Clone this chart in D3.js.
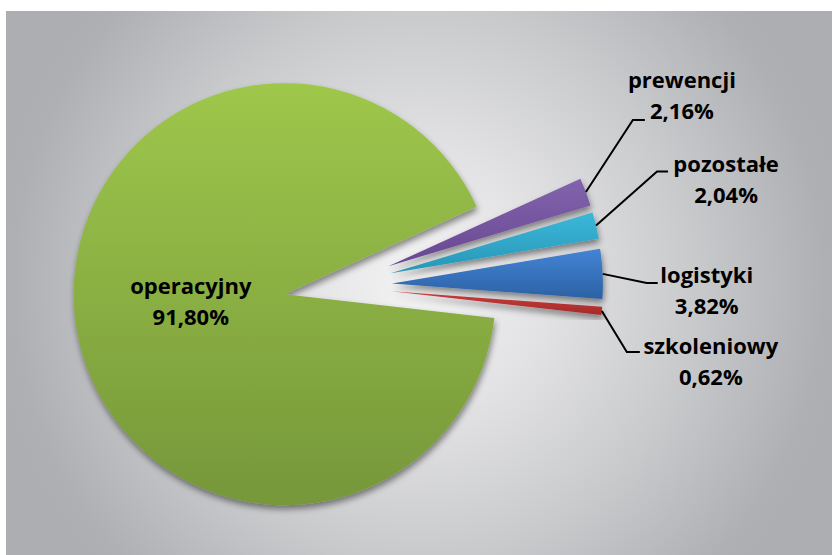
<!DOCTYPE html>
<html>
<head>
<meta charset="utf-8">
<script src="https://cdn.jsdelivr.net/npm/d3@7"></script>
<style>
  body { margin: 0; background: #ffffff; }
  svg { display: block; }
</style>
</head>
<body>
<svg id="chart" width="832" height="555"></svg>
<script>
// Budget shares by area (percent)
const categories  = ["prewencji", "pozostałe", "logistyki", "szkoleniowy", "operacyjny"];
const shares      = [2.16, 2.04, 3.82, 0.62, 91.80];
const valueLabels = ["2,16%", "2,04%", "3,82%", "0,62%", "91,80%"];

// Slice fills: light top, darker bottom
const fillTop    = ["#8263ad", "#3ab8da", "#4384d5", "#c83d3c", "#9ec74b"];
const fillBottom = ["#684891", "#2896b6", "#2c61a4", "#a52a2a", "#76973a"];

const W = 832, H = 555;
const svg = d3.select("#chart");
const defs = svg.append("defs");

// Panel background with a soft radial light
const bg = defs.append("radialGradient")
  .attr("id", "bgGrad")
  .attr("gradientUnits", "userSpaceOnUse")
  .attr("cx", 419).attr("cy", 283).attr("r", 440);
[[0, "#f3f3f4"], [0.3, "#e2e2e4"], [0.62, "#c9cacc"], [0.92, "#afb0b4"], [1, "#adaeb2"]]
  .forEach(([o, c]) => bg.append("stop").attr("offset", o).attr("stop-color", c));

svg.append("rect")
  .attr("x", 6).attr("y", 11)
  .attr("width", W - 6).attr("height", H - 11)
  .attr("fill", "url(#bgGrad)");

// Soft outer shadow for the slices
const shadow = defs.append("filter")
  .attr("id", "sliceShadow")
  .attr("x", "-20%").attr("y", "-20%").attr("width", "140%").attr("height", "140%");
shadow.append("feDropShadow")
  .attr("dx", 1).attr("dy", 4).attr("stdDeviation", 3)
  .attr("flood-color", "#000").attr("flood-opacity", 0.45);

categories.forEach((c, i) => {
  const g = defs.append("linearGradient")
    .attr("id", "fill" + i)
    .attr("x1", 0).attr("y1", 0).attr("x2", 0).attr("y2", 1);
  g.append("stop").attr("offset", 0).attr("stop-color", fillTop[i]);
  g.append("stop").attr("offset", 1).attr("stop-color", fillBottom[i]);
});

// Pie geometry
const cx = 336, cy = 286, radius = 211;
const rad = Math.PI / 180;
const start = 65.5 * rad;
const explode = [56, 56, 56, 56, 52];

const pie = d3.pie().sort(null).value(d => d)
  .startAngle(start).endAngle(start + 2 * Math.PI);
const arcs = pie(shares);
const arc = d3.arc().innerRadius(0).outerRadius(radius);

const dir = a => [Math.sin(a), -Math.cos(a)];
const mid = d => (d.startAngle + d.endAngle) / 2;
const offset = (d, i) => {
  const [ux, uy] = dir(mid(d));
  return [cx + ux * explode[i], cy + uy * explode[i]];
};

const sliceG = svg.append("g");
sliceG.selectAll("path")
  .data(arcs)
  .join("path")
  .attr("transform", (d, i) => `translate(${offset(d, i)})`)
  .attr("d", arc)
  .attr("fill", (d, i) => `url(#fill${i})`)
  .attr("filter", "url(#sliceShadow)");

// Leader lines and labels for the small slices; elbow and text centre are
// given relative to the point where the line leaves the slice edge
const labelLayout = [
  { elbow: [47, -72], hook: 12, text: [96, -104] },
  { elbow: [61, -54], hook: 11, text: [130, -53] },
  { elbow: [44, 9],   hook: 11, text: [104, 9] },
  { elbow: [25, 41],  hook: 13, text: [109, 43] }
];

const fontFamily = "'Open Sans', 'Liberation Sans', sans-serif";
const labelG = svg.append("g")
  .attr("font-family", fontFamily)
  .attr("font-weight", 700)
  .attr("font-size", 22)
  .attr("fill", "#000");

arcs.slice(0, 4).forEach((d, i) => {
  const [ox, oy] = offset(d, i);
  const [ux, uy] = dir(mid(d));
  const sx = ox + ux * radius, sy = oy + uy * radius;
  const L = labelLayout[i];
  const ex = sx + L.elbow[0], ey = sy + L.elbow[1];
  svg.append("path")
    .attr("d", d3.line()([[sx, sy], [ex, ey], [ex + L.hook, ey]]))
    .attr("fill", "none")
    .attr("stroke", "#000")
    .attr("stroke-width", 2);
  const tx = sx + L.text[0], ty = sy + L.text[1];
  const t = labelG.append("text").attr("text-anchor", "middle");
  t.append("tspan").attr("x", tx).attr("y", ty).text(categories[i]);
  t.append("tspan").attr("x", tx).attr("y", ty + 31).text(valueLabels[i]);
});

// Label inside the large slice
{
  const d = arcs[4];
  const [ox, oy] = offset(d, 4);
  const [ux, uy] = dir(mid(d));
  const lx = ox + ux * 95, ly = oy + uy * 95;
  const t = labelG.append("text").attr("text-anchor", "middle");
  t.append("tspan").attr("x", lx).attr("y", ly - 15).text(categories[4]);
  t.append("tspan").attr("x", lx).attr("y", ly + 16).text(valueLabels[4]);
}
</script>
</body>
</html>
